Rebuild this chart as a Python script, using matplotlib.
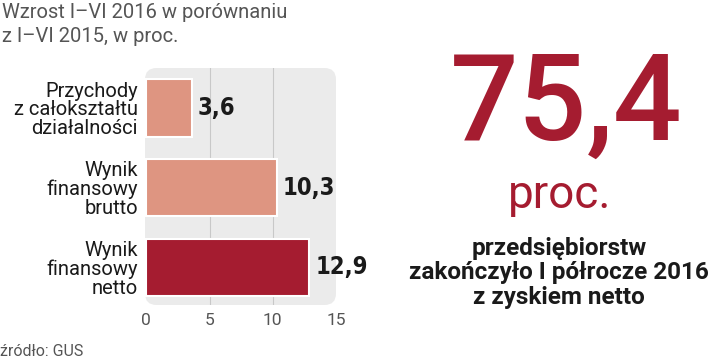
import matplotlib
matplotlib.use("Agg")
import matplotlib.pyplot as plt
from matplotlib.patches import FancyBboxPatch

categories = ["Przychody\nz całokształtu\ndziałalności", "Wynik\nfinansowy\nbrutto", "Wynik\nfinansowy\nnetto"]
values = [3.6, 10.3, 12.9]
value_labels = ["3,6", "10,3", "12,9"]
xticks = [0, 5, 10, 15]
big_number = "75,4"

plt.rcParams['font.family'] = ['Roboto', 'DejaVu Sans']

fig = plt.figure(figsize=(7.2, 3.63), dpi=100)
ax = fig.add_axes([145/720, 1-305/363, (336-145)/720, (305-68)/363])
ax.set_xlim(-0.1, 15)
ax.set_ylim(2.47, -0.5)
ax.patch.set_visible(False)
for s in ax.spines.values():
    s.set_visible(False)

panel = FancyBboxPatch((0, 0), 1, 1, boxstyle="round,pad=0,rounding_size=0.06",
                       transform=ax.transAxes, facecolor="#ebebeb", edgecolor="none", zorder=0,
                       mutation_aspect=191/237)
ax.add_patch(panel)
for g in [5, 10]:
    ax.axvline(g, color="#c8c8c8", lw=0.8, zorder=1)

colors = ["#de9581", "#de9581", "#a51c30"]
ypos = list(range(len(values)))
bars = ax.barh(ypos, values, height=0.72, color=colors, edgecolor="white", linewidth=1.5, zorder=2)
for y, v, lab in zip(ypos, values, value_labels):
    ax.text(v + 0.45, y, lab, ha="left", va="center", fontsize=17, fontweight="bold",
            fontstretch="condensed", family=['DejaVu Sans'], color="#1a1a1a")

ax.set_yticks(ypos)
ax.set_yticklabels(categories, fontsize=14.5, color="#1a1a1a", linespacing=0.98, ha="right")
ax.tick_params(axis="y", length=0, pad=5)
ax.set_xticks(xticks)
ax.set_xticklabels([str(t) for t in xticks], fontsize=12.5, color="#555555")
ax.tick_params(axis="x", length=0, pad=6)

fig.text(2/720, 1-3/363, "Wzrost I–VI 2016 w porównaniu\nz I–VI 2015, w proc.", ha="left", va="top",
         fontsize=14.5, color="#555555", linespacing=1.35)
fig.text(0/720, 1-352/363, "źródło: GUS", ha="left", va="center", fontsize=11.5, color="#555555")

fig.text(566/720, 1-140/363, big_number, ha="center", va="baseline", fontsize=87, color="#a51c30",
         fontweight="medium")
fig.text(560/720, 1-208/363, "proc.", ha="center", va="baseline", fontsize=33, color="#a51c30")
fig.text(559/720, 1-273/363, "przedsiębiorstw\nzakończyło I półrocze 2016\nz zyskiem netto", ha="center",
         va="center", fontsize=17.5, fontweight="bold", color="#1a1a1a", linespacing=1.08)

fig.savefig("out.png", dpi=100)
